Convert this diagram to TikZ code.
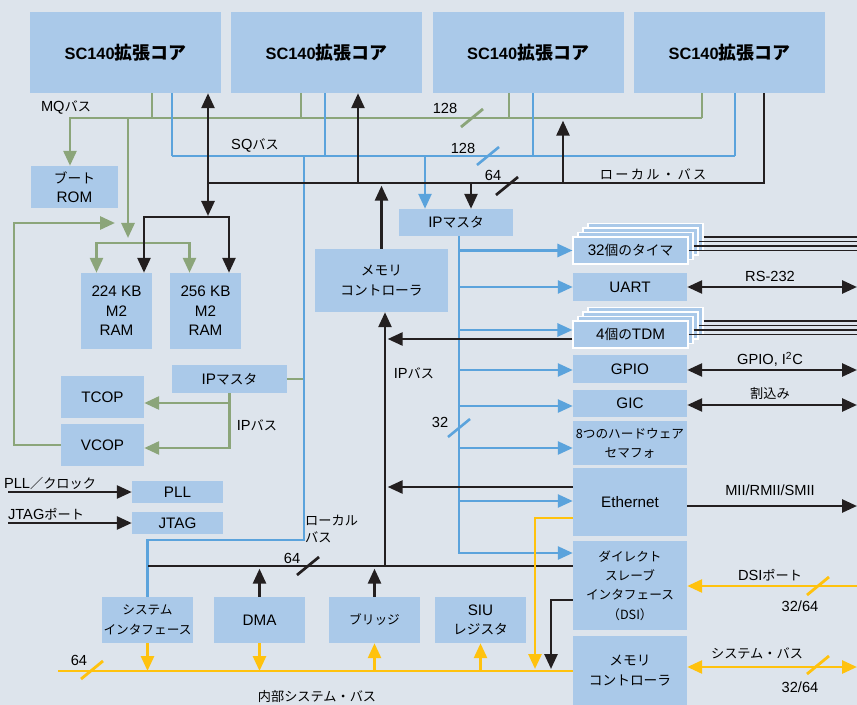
\documentclass[tikz,border=0pt]{standalone}
\usepackage{fontspec}
\setmainfont{Liberation Sans}
\newfontfamily\jp[Scale=0.9]{Noto Sans CJK JP}
\usetikzlibrary{arrows.meta,calc}
\definecolor{bgcol}{RGB}{221,228,236}
\definecolor{boxcol}{RGB}{170,201,233}
\definecolor{mqgreen}{RGB}{139,165,122}
\definecolor{sqblue}{RGB}{91,163,220}
\definecolor{sysyellow}{RGB}{255,194,14}
\definecolor{lbblack}{RGB}{35,31,32}

\tikzset{
  box/.style={fill=boxcol, inner sep=0pt, align=center, font=\fontsize{13}{16.5}\selectfont},
  jpbox/.style={box, font=\fontsize{13}{16.5}\selectfont\jp},
  smallbox/.style={box, font=\fontsize{12}{16.5}\selectfont\jp},
  sz/.style 2 args={minimum width=#1*0.3mm, minimum height=#2*0.3mm},
  corebox/.style={box, sz={191}{81}, font=\fontsize{14}{17}\selectfont\bfseries},
  stackbox/.style={box, sz={115}{27}, draw=white, line width=0.9pt},
  lbl/.style={inner sep=0pt, font=\fontsize{12.5}{15}\selectfont},
  grn/.style={draw=mqgreen, line width=2.4pt},
  blu/.style={draw=sqblue, line width=2.2pt},
  ylw/.style={draw=sysyellow, line width=2.4pt},
  lbk/.style={draw=lbblack, line width=2.3pt},
  arw/.style={-{Triangle[length=4.5mm,width=3.9mm]}},
  arws/.style={{Triangle[length=4.5mm,width=3.9mm]}-{Triangle[length=4.5mm,width=3.9mm]}},
  bitcut/.pic={\draw[pic actions] (-11,9) -- (11,-9);}
}

\begin{document}
\begin{tikzpicture}[x=0.3mm, y=-0.3mm]
\useasboundingbox (0,0) rectangle (857,705);
\fill[bgcol] (0,0) rectangle (857,705);

% cores
\foreach \i/\x in {1/125.5,2/326.5,3/528,4/729.5}
  \node[corebox] (core\i) at (\x,52.5) {SC140{\jp\fontsize{17}{17}\selectfont 拡張コア}};

% left side
\node[box, sz={87}{42}] (rom) at (74.5,187) {{\jp ブート}\\ROM};
\node[box, sz={71}{76}] (ram1) at (116.5,311) {224 KB\\M2\\RAM};
\node[box, sz={71}{76}] (ram2) at (205.5,311) {256 KB\\M2\\RAM};
\node[box, sz={83}{42}] (tcop) at (102.5,397) {TCOP};
\node[box, sz={83}{42}] (vcop) at (102.5,445) {VCOP};
\node[box, sz={115}{28}] (ipmL) at (229.5,379) {IP{\jp マスタ}};
\node[box, sz={91}{22}] (pll) at (177.5,492) {PLL};
\node[box, sz={91}{22}] (jtag) at (177.5,523) {JTAG};

% bottom row
\node[smallbox, sz={91}{46}] (sysif) at (147.5,620) {システム\\インタフェース};
\node[box, sz={91}{46}] (dma) at (259.5,620) {DMA};
\node[smallbox, sz={91}{46}] (bridge) at (374.5,620) {ブリッジ};
\node[box, sz={91}{46}] (siu) at (480.5,620) {SIU\\{\jp レジスタ}};

% middle
\node[box, sz={114}{27}] (ipmR) at (456,222.5) {IP{\jp マスタ}};
\node[jpbox, sz={133}{63}] (memc1) at (381.5,280.5) {メモリ\\コントローラ};

% right column
\coordinate (timerC) at (630.5,250.5);
\foreach \k in {3,2,1}
  \node[stackbox] (timer\k) at ($(timerC)+(5*\k,-4.5*\k)$) {};
\node[stackbox] (timer) at (timerC) {32{\jp 個のタイマ}};
\node[box, sz={114}{28}] (uart) at (630,287) {UART};
\coordinate (tdmC) at (630.5,334.5);
\foreach \k in {3,2,1}
  \node[stackbox] (tdm\k) at ($(tdmC)+(5*\k,-4.5*\k)$) {};
\node[stackbox] (tdm) at (tdmC) {4{\jp 個の}TDM};
\node[box, sz={114}{28}] (gpio) at (630,369) {GPIO};
\node[box, sz={114}{27}] (gic) at (630,403.5) {GIC};
\node[smallbox, sz={114}{44}] (sem) at (630,443) {8つのハードウェア\\セマフォ};
\node[box, sz={114}{68}] (eth) at (630,502) {Ethernet};
\node[smallbox, sz={114}{89}] (dsi) at (630,585.5) {ダイレクト\\スレーブ\\インタフェース\\（DSI）};
\node[jpbox, sz={114}{69}] (memc2) at (630,670.5) {メモリ\\コントローラ};

% bus points
\coordinate (mqW) at (70,118);   \coordinate (mqE) at (702,118);
\coordinate (sqW) at (172,156);  \coordinate (sqE) at (735,156);
\coordinate (lbW) at (208,183);  \coordinate (lbE) at (764,183);
\coordinate (llW) at (148,566);  \coordinate (isW) at (58,671);
\coordinate (sqT) at (304,156);  \coordinate (sqB) at (304,540);
\coordinate (ramG) at (128,243); \coordinate (ramK) at (208,217);
\coordinate (loopT) at (14,223); \coordinate (loopE) at (115,223);
\coordinate (ipb) at (459,0);    \coordinate (ipK) at (385,566);
\coordinate (ethY) at (535,669); \coordinate (dsiK) at (551,669);
\coordinate (lEdge) at (8,0);    \coordinate (rEdge) at (857,0);
\coordinate (dsiP) at (857,586); \coordinate (sbR) at (857,667);

% MQ bus
\draw[grn,arw] (mqE) -- (mqW) -- (rom.north -| mqW);
\foreach \c/\x in {core1/152,core2/301,core3/509,core4/702}
  \draw[grn] (\c.south -| \x,0) -- (mqW -| \x,0);
\draw[grn,arw,shorten >=1.5mm] (mqW -| ramG) -- (ramG);
\draw[grn,arw] (ramG) -| ($(ram1.north)+(-20,0)$);
\draw[grn,arw] (ramG) -| ($(ram2.north)+(-16,0)$);
\draw[grn,arw] (vcop.west) -| (loopT) -- (loopE);
\draw[grn] (ipmL.east) -- (ipmL.east -| sqT);
\draw[grn,arw] (ipmL.south) |- ($(tcop.east)+(0,6)$);
\draw[grn,arw] (ipmL.south) |- ($(vcop.east)+(0,3)$);

% SQ bus and IP bus
\draw[blu] (sqW) -- (sqE);
\foreach \c/\x in {core1/172,core2/325,core3/533,core4/735}
  \draw[blu] (\c.south -| \x,0) -- (sqW -| \x,0);
\draw[blu] (sqT) -- (sqB) -| (sysif.north);
\draw[blu,arw] (sqW -| 425,0) -- (ipmR.north -| 425,0);
\foreach \n/\dy in {timer/0,uart/0,tdm/-4.5,gpio/1,gic/2.5,sem/5,eth/-1,dsi/-32.5}
  \draw[blu,arw] (ipmR.south -| ipb) |- ($(\n.west)+(0,\dy)$);

% local bus
\draw[lbk] (lbW) -- (lbE) -- (lbE |- core4.south);
\draw[lbk,arws,shorten >=0.3mm] (core1.south -| ramK) -- (ramK);
\draw[lbk,arw] (ramK) -| ($(ram1.north)+(27.5,0)$);
\draw[lbk,arw] (ramK) -| ($(ram2.north)+(23.5,0)$);
\draw[lbk,arw] (lbW -| 358,0) -- (core2.south -| 358,0);
\draw[lbk,arw,shorten >=0.8mm] (lbW -| 563,0) -- (mqW -| 563,0);
\draw[lbk,arw] (lbW -| 471,0) -- (ipmR.north -| 471,0);
\draw[lbk,arw,shorten >=0.8mm] (memc1.north) -- (memc1.north |- lbW);
\draw[lbk,arw] (ipK) -- (ipK |- memc1.south);
\draw[lbk,arw,shorten >=0.8mm] ($(tdm.west)+(0,4.5)$) -- (ipK |- 0,339);
\draw[lbk,arw,shorten >=0.8mm] ($(eth.west)+(0,-15)$) -- (ipK |- 0,487);
\draw[lbk] (llW) -- (llW -| dsi.west);
\draw[lbk,arw,shorten >=0.8mm] (dma.north) -- (dma.north |- llW);
\draw[lbk,arw,shorten >=0.8mm] (bridge.north) -- (bridge.north |- llW);
\draw[lbk,arw] ($(dsi.west)+(0,14.5)$) -| (dsiK);
\draw[lbk,arw] ($(eth.east)+(0,4)$) -- ($(eth.east -| rEdge)+(0,4)$);
\foreach \n/\dy in {uart/0,gpio/1,gic/1.5}
  \draw[lbk,arws] ($(\n.east)+(0,\dy)$) -- ($(\n.east -| rEdge)+(0,\dy)$);
\draw[lbk,arw] (lEdge |- pll.west) -- (pll.west);
\draw[lbk,arw] (lEdge |- jtag.west) -- (jtag.west);
\foreach \n in {timer,timer1,timer2,timer3,tdm,tdm1,tdm2,tdm3}
  \draw[lbblack,line width=0.9pt] (\n.east) -- (\n.east -| rEdge);

% internal system bus
\draw[ylw] (isW) -- (isW -| memc2.west);
\draw[ylw,arw] (sysif.south) -- (sysif.south |- isW);
\draw[ylw,arw] (dma.south) -- (dma.south |- isW);
\draw[ylw,arw] (bridge.south |- isW) -- (bridge.south);
\draw[ylw,arw] (siu.south |- isW) -- (siu.south);
\draw[ylw,arw] ($(eth.west)+(0,16)$) -| (ethY);
\draw[ylw,arw] (dsiP) -- (dsiP -| dsi.east);
\draw[ylw,arws] (sbR -| memc2.east) -- (sbR);

% bus widths
\pic[grn] at (472,118) {bitcut};
\pic[blu] at (488,156) {bitcut};
\pic[lbk] at (507,186) {bitcut};
\pic[blu] at (459,428) {bitcut};
\pic[lbk] at (308,566) {bitcut};
\pic[ylw] at (92,670) {bitcut};
\pic[ylw] at (818,586) {bitcut};
\pic[ylw] at (818,665) {bitcut};

% labels
\node[lbl] (tMQ) at (66,107) {MQ{\jp バス}};
\node[lbl] (tSQ) at (255,145) {SQ{\jp バス}};
\node[lbl] (tW1) at (445,108) {128};
\node[lbl] (tW2) at (463,148) {128};
\node[lbl] (tW3) at (493,175) {64};
\node[lbl] (tLB) at (653,174) {\jp\addfontfeature{LetterSpace=18}ローカル・バス};
\node[lbl] (tIP1) at (414,373) {IP{\jp バス}};
\node[lbl] (tIP2) at (257,425) {IP{\jp バス}};
\node[lbl] (tW4) at (440,422) {32};
\node[lbl] (tRS) at (770,276) {RS-232};
\node[lbl] (tGP) at (770,359) {GPIO, I\textsuperscript{2}C};
\node[lbl] (tIRQ) at (770,393) {\jp 割込み};
\node[lbl] (tMII) at (770,490) {MII/RMII/SMII};
\node[lbl] (tDSI) at (770,575) {DSI{\jp ポート}};
\node[lbl] (tW5) at (800,606) {32/64};
\node[lbl] (tSB) at (757,653) {\jp システム・バス};
\node[lbl] (tW6) at (800,687) {32/64};
\node[lbl] (tPLL) at (50,483) {PLL{\jp ／クロック}};
\node[lbl] (tJT) at (46,514) {JTAG{\jp ポート}};
\node[lbl, align=left, anchor=west] (tLB2) at (305,529) {\jp ローカル\\\jp バス};
\node[lbl] (tW7) at (292,558) {64};
\node[lbl] (tW8) at (79,660) {64};
\node[lbl] (tIS) at (317,696) {\jp 内部システム・バス};
\end{tikzpicture}
\end{document}
